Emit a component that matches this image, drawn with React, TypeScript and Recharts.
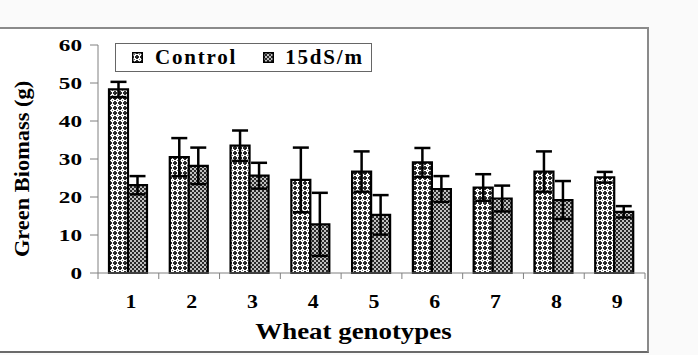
import React from 'react';
import { BarChart, Bar, XAxis, YAxis, ErrorBar, Legend, Label } from 'recharts';

const genotypes = ['1', '2', '3', '4', '5', '6', '7', '8', '9'];
const controlValues = [48.3, 30.5, 33.5, 24.5, 26.7, 29.1, 22.5, 26.7, 25.2];
const controlErrors = [2.0, 5.0, 4.0, 8.5, 5.3, 3.8, 3.5, 5.3, 1.4];
const salineValues = [23.1, 28.2, 25.6, 12.8, 15.3, 22.1, 19.6, 19.2, 16.1];
const salineErrors = [2.4, 4.8, 3.4, 8.3, 5.2, 3.4, 3.4, 5.0, 1.5];
const yTicks = [0, 10, 20, 30, 40, 50, 60];
const seriesNames = ['Control', '15dS/m'];
const xTitle = 'Wheat genotypes';
const yTitle = 'Green Biomass (g)';

const data = genotypes.map((g, i) => ({
  name: g,
  control: controlValues[i],
  controlErr: controlErrors[i],
  saline: salineValues[i],
  salineErr: salineErrors[i],
}));

const FONT = '"Liberation Serif", "Times New Roman", serif';
const AXIS_GRAY = '#808080';

const XTick = (props: any) => {
  const { x, y, payload, index, visibleTicksCount } = props;
  const half = payload.offset || 0;
  const isLast = index === visibleTicksCount - 1;
  return (
    <g>
      <line x1={x - half} x2={x - half} y1={y - 8} y2={y - 2} stroke={AXIS_GRAY} strokeWidth={1} />
      {isLast && <line x1={x + half} x2={x + half} y1={y - 8} y2={y - 2} stroke={AXIS_GRAY} strokeWidth={1} />}
      <text
        transform={`translate(${x + 2.5},${y + 27}) scale(1.15,1)`}
        textAnchor="middle"
        fontFamily={FONT}
        fontWeight="bold"
        fontSize={19}
        fill="#000"
      >
        {payload.value}
      </text>
    </g>
  );
};

const YTick = (props: any) => {
  const { x, y, payload } = props;
  return (
    <text
      transform={`translate(${x},${y + 5.5}) scale(1.45,1)`}
      textAnchor="end"
      fontFamily={FONT}
      fontWeight="bold"
      fontSize={16}
      fill="#000"
    >
      {payload.value}
    </text>
  );
};

const XTitle = (props: any) => {
  const { viewBox } = props;
  const cx = viewBox.x + viewBox.width / 2 - 18;
  const cy = viewBox.y + 66;
  return (
    <text
      transform={`translate(${cx},${cy}) scale(1.12,1)`}
      textAnchor="middle"
      fontFamily={FONT}
      fontWeight="bold"
      fontSize={24}
      fill="#000"
    >
      {xTitle}
    </text>
  );
};

const YTitle = (props: any) => {
  const { viewBox } = props;
  const cx = viewBox.x + 29;
  const cy = viewBox.y + viewBox.height / 2 + 10;
  return (
    <text
      transform={`translate(${cx},${cy}) rotate(-90) scale(1.12,1)`}
      textAnchor="middle"
      fontFamily={FONT}
      fontWeight="bold"
      fontSize={20}
      fill="#000"
    >
      {yTitle}
    </text>
  );
};

const Swatch = ({ id }: { id: string }) => (
  <svg width={11} height={11} style={{ display: 'block' }}>
    <rect x={0.75} y={0.75} width={9.5} height={9.5} fill={`url(#${id})`} stroke="#000" strokeWidth={1.5} />
  </svg>
);

const LegendContent = () => (
  <div
    style={{
      display: 'flex',
      alignItems: 'center',
      border: '1.5px solid #666',
      height: 29,
      boxSizing: 'border-box',
      width: 257,
      paddingLeft: 16,
      background: '#fff',
      fontFamily: FONT,
      fontWeight: 'bold',
      fontSize: 21,
      letterSpacing: 1.8,
      color: '#000',
    }}
  >
    <Swatch id="patControl" />
    <span style={{ marginLeft: 12 }}>{seriesNames[0]}</span>
    <span style={{ marginLeft: 26, display: 'flex' }}>
      <Swatch id="patSaline" />
    </span>
    <span style={{ marginLeft: 11 }}>{seriesNames[1]}</span>
  </div>
);

export default function App() {
  return (
    <div style={{ position: 'absolute', left: 0, top: 0, width: 698, height: 355, background: '#fafafa', overflow: 'hidden' }}>
      <div
        style={{
          position: 'absolute',
          left: 0,
          top: 27,
          width: 649,
          height: 326,
          boxSizing: 'border-box',
          background: '#fff',
          borderTop: '2px solid #8a8a8a',
          borderRight: '2px solid #8a8a8a',
          borderBottom: '2px solid #6a6a6a',
        }}
      />
      <div style={{ position: 'absolute', left: 0, top: 28 }}>
        <BarChart
          width={648}
          height={325}
          data={data}
          margin={{ top: 17, right: 3, left: 0, bottom: 0 }}
          barGap={0}
          barSize={19}
        >
          <defs>
            <pattern id="patControl" patternUnits="userSpaceOnUse" width={5} height={5}>
              <rect x={0} y={0} width={5} height={5} fill="#2e2e2e" />
              <rect x={1} y={1} width={3} height={3} fill="#fff" />
              <rect x={2} y={0} width={1} height={5} fill="#fff" />
              <rect x={0} y={2} width={5} height={1} fill="#fff" />
              <rect x={2} y={2} width={1} height={1} fill="#6a6a6a" />
              <rect x={0} y={0} width={1} height={1} fill="#111" />
            </pattern>
            <pattern id="patSaline" patternUnits="userSpaceOnUse" width={4} height={4}>
              <rect x={0} y={0} width={4} height={4} fill="#c0c0c0" />
              <rect x={0} y={0} width={2} height={2} fill="#2a2a2a" />
              <rect x={2} y={2} width={2} height={2} fill="#2a2a2a" />
            </pattern>
          </defs>
          <XAxis
            dataKey="name"
            height={80}
            axisLine={{ stroke: AXIS_GRAY, strokeWidth: 1 }}
            tickLine={false}
            tick={<XTick />}
            interval={0}
          >
            <Label content={<XTitle />} />
          </XAxis>
          <YAxis
            width={98}
            domain={[0, 60]}
            ticks={yTicks}
            interval={0}
            axisLine={{ stroke: AXIS_GRAY, strokeWidth: 1 }}
            tickLine={{ stroke: AXIS_GRAY, strokeWidth: 1 }}
            tickSize={8}
            tickMargin={8}
            tick={<YTick />}
          >
            <Label content={<YTitle />} />
          </YAxis>
          <Legend
            layout="horizontal"
            verticalAlign="middle"
            align="center"
            content={<LegendContent />}
            wrapperStyle={{ position: 'absolute', left: 115, top: 15, width: 'auto', height: 'auto' }}
          />
          <Bar dataKey="control" name={seriesNames[0]} fill="url(#patControl)" stroke="#000" strokeWidth={2.2} isAnimationActive={false}>
            <ErrorBar dataKey="controlErr" width={8} stroke="#000" strokeWidth={2.5} isAnimationActive={false} />
          </Bar>
          <Bar dataKey="saline" name={seriesNames[1]} fill="url(#patSaline)" stroke="#000" strokeWidth={2.2} isAnimationActive={false}>
            <ErrorBar dataKey="salineErr" width={8} stroke="#000" strokeWidth={2.5} isAnimationActive={false} />
          </Bar>
        </BarChart>
      </div>
    </div>
  );
}
